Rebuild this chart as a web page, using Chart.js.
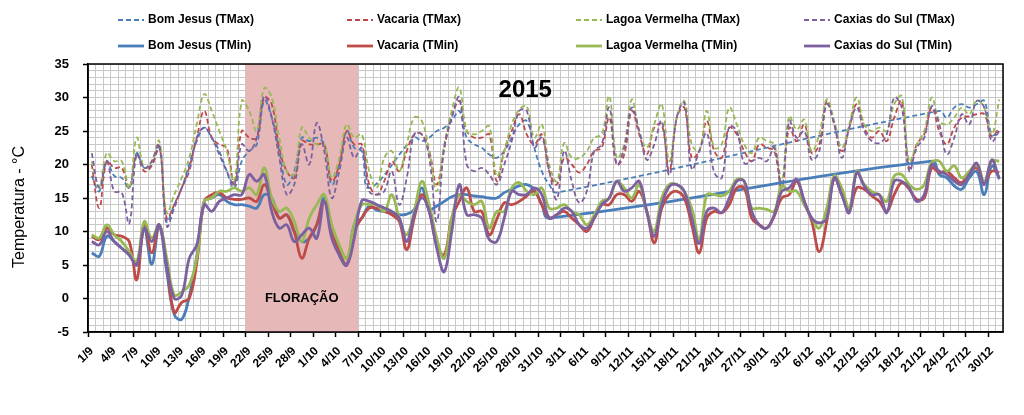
<!DOCTYPE html>
<html>
<head>
<meta charset="utf-8">
<script src="https://cdn.jsdelivr.net/npm/chart.js@4.4.0/dist/chart.umd.min.js"></script>
<style>
  html, body { margin: 0; padding: 0; background: #fff; }
  #wrap { width: 1024px; height: 415px; }
</style>
</head>
<body>
<div id="wrap"><canvas id="chart" width="1024" height="415"></canvas></div>
<script>
// categories: every day from 1/9 to 31/12
const months = [9, 10, 11, 12];
const monthDays = [30, 31, 30, 31];
const dayLabels = [];
months.forEach((m, k) => {
    for (let d = 1; d <= monthDays[k]; d++) dayLabels.push(d + '/' + m);
});

// flowering period (first and last day)
const bloomFrom = '22/9';
const bloomTo = '6/10';

// Bom Jesus (missing days are null)
const bjMax = [
    18.3, 16, 20.5, 18.3, 18, 16.5, 21.7, 19.5, 20, 22.5,
    11.5, 14, 16.5, 20, 23.5, 25.5, 24, 22, 19, 16.5,
    20.5, 22, 23, 29.5, 27, 22, 17, 19, 24, 23.5,
    24, 23, 17, 20, 25, 22.5, 22, 16.5, null, null,
    null, null, null, 24, 23.5, 24, 25, 25.5, 26.5, 28,
    24, 23, 22.5, 21.5, 21, 22, 24, 26, 26.5, 22.5,
    19, 17, 15.8, null, null, null, null, null, null, null,
    null, null, null, null, null, null, null, null, null, null,
    null, null, null, null, null, null, null, null, null, null,
    null, null, null, null, null, null, null, null, null, null,
    null, null, null, null, null, null, null, null, null, null,
    null, null, null, 28, 27, 28.5, 29, 28.5, 29, 29.5,
    24.5, 24.5
];
const bjMin = [
    6.8, 6.3, 9.3, 8.5, 7.5, 6.5, 5.2, 10.3, 5.1, 10.8,
    4, -2.4, -3.1, 0.3, 6.3, 14.5, 15, 15.5, 14.5, 14,
    14, 13.8, 13.5, 15.5, 15, 12, 12.5, 10, 8.5, 9,
    11, 15, 10, 6.5, 5, 11, 12, 13.8, 13.2, 13,
    12.8, 12.5, 12.6, 13.3, 16.5, 13.3, 13.8, 14.5, 15.2, 15.5,
    15.5, 15.3, 15.2, 15, 15, 15.8, 16.3, 16.8, 17, 16.3,
    14, 12, null, null, null, null, null, null, null, null,
    null, null, null, null, null, null, null, null, null, null,
    null, null, null, null, null, null, null, null, null, null,
    null, null, null, null, null, null, null, null, null, null,
    null, null, null, null, null, null, null, null, null, null,
    null, null, 20.5, 18.5, 18, 16.8, 16.3, 18, 19, 15.5,
    19.8, 18
];

// Vacaria
const vaMax = [
    20, 13.5, 20.5, 19.5, 19.5, 16.5, 21.5, 19, 19.8, 22.7,
    12, 14, 16.5, 19.5, 24, 28, 24, 23, 22.5, 17,
    25, 24, 24, 30, 29, 22.5, 19, 18, 23.5, 23,
    23, 23, 17.5, 20, 25, 23, 23, 17, 15.5, 17.5,
    20.5, 19, 22, 24.5, 24.5, 22, 17, 22.5, 27, 29.5,
    25, 24, 24, 24.5, 17.5, 22, 25, 27.5, 24.5, 23,
    24.5, 19, 17, 21, 20, 18.8, 20, 22, 22.5, 27,
    20, 21.5, 28, 24.5, 21.5, 25.5, 26, 19, 27, 28.5,
    21, 22, 26.5, 22, 21, 25.5, 24.5, 22, 20.5, 23,
    22.5, 22, 16.5, 25.5, 23.5, 26, 21.7, 23, 29.5, 26,
    22, 25.5, 29, 25.5, 24, 25, 23.5, 27, 29.5, 19.5,
    23, 24.5, 28.5, 25, 23, 25.5, 27, 27.2, 27.5, 27.5,
    24.2, 25.5
];
const vaMin = [
    9.3, 8.8, 10.5, 9.5, 9.3, 8.5, 2.8, 11, 6.8, 11,
    5, -2.1, -0.6, 0, 5.3, 14.5, 15.5, 15.8, 15, 14.8,
    14.8, 15, 14.5, 17, 14.5, 12, 12.5, 10, 6, 9,
    11, 14.5, 10, 7, 5, 10, 12, 13.5, 13.5, 13,
    12.5, 11.5, 7.3, 12, 15.5, 13, 8, 6.5, 12, 14.5,
    16.5, 13, 13, 9.5, 11.8, 14.3, 14, 14.5, 15.3, 16,
    14, 12, 12.5, 13, 12, 11, 10, 12, 14, 14,
    15.5, 15.5, 14.5, 16, 13, 8.3, 13.5, 15.5, 16, 15,
    11, 6.8, 12, 13, 12.8, 14, 16.5, 16.5, 12, 11,
    10.5, 12.3, 15, 15.5, 17.5, 14.5, 11.5, 7, 11.5, 18,
    15.5, 13.3, 16.5, 16.3, 15.3, 14.5, 13, 15.5, 17.3, 16.3,
    14.8, 15, 19.5, 18.8, 19, 18, 17.3, 18.8, 19.5, 17.3,
    19, 18.8
];

// Lagoa Vermelha
const lvMax = [
    20.5, 16.7, 21.7, 20.5, 20.5, 16.5, 24, 19.5, 20.5, 23.5,
    12.8, 15.5, 18, 21, 26, 30.5, 28, 25, 22, 17.5,
    29.5, 28, 25, 31.4, 30, 24, 19, 18.5, 25.5, 24,
    23, 23, 18, 21, 26, 24, 24.5, 19, 16.5, 21,
    22, 19, 23, 27, 26.5, 22, 16, 23, 28, 31.5,
    25, 24.5, 25, 25.7, 18.3, 22, 26, 28.2, 28.7, 24,
    26, 20, 17.5, 23.2, 21, 21, 22, 24, 24.5, 30.2,
    21, 23, 29.7, 25, 22.5, 26, 29, 20.5, 27, 29.5,
    23, 22, 28, 22.5, 23, 28.5, 26, 23, 21.7, 24,
    23.5, 23, 17.5, 27.2, 25.2, 26.7, 22, 24.5, 29.7, 26.5,
    22.5, 26, 30, 26, 25, 25.5, 25, 29, 30.2, 20.5,
    23, 25, 30, 26.5, 26, 27, 28.5, 27.5, 29.5, 28.5,
    24.5, 29.7
];
const lvMin = [
    9.5, 9, 11, 9.5, 8.5, 7, 5.5, 11.5, 9, 11,
    6, 0.5, 1, 2, 6, 14.5, 15, 16, 16, 16.5,
    16, 16.5, 15.5, 19.5, 15, 13, 13.5, 11.5, 8.5, 12,
    14, 15.5, 11, 8, 6, 11, 14, 14, 14, 13,
    15.5, 12, 9.5, 13, 17.5, 14, 9, 6, 12, 15.5,
    14.5, 14, 14.5, 10.5, 13, 13, 16.5, 17.3, 16, 15.5,
    16.5, 13.5, 13.5, 14, 13, 12.5, 11, 12.5, 14.5, 15,
    17.5, 16.5, 15, 17, 13, 10, 15, 17, 17, 16,
    13.5, 8.8, 15.5, 15.5, 15.3, 16, 17.8, 17.5, 13.5, 13.5,
    13.3, 13, 16.8, 16, 16, 14, 12, 10.5, 13.5, 18.3,
    16.5, 13.5, 19, 17, 16, 15.5, 14.5, 18.3, 18.5, 17,
    16.3, 17, 20.3, 20.5, 19, 19.8, 18, 19, 20, 17.5,
    20.5, 20.5
];

// Caxias do Sul
const cxMax = [
    21.7, 16.5, 20.5, 16, 15.8, 11.2, 21.6, 19.5, 20.5, 23,
    10.8, 13.5, 16.5, 19, 24, 25.5, 24, 21.5, 19, 17,
    23, 22, 24, 30.2, 27, 21, 15.5, 17, 23, 20,
    26.2, 22, 15, 19, 24, 21, 22.5, 16, 15.5, 16,
    19, 14, 18, 24.5, 24.5, 21, 11.5, 22.5, 27, 30,
    20, 19, 19.5, 18.5, 17, 20, 23.5, 28, 28, 22.5,
    24, 19, 14.8, 22, 17.5, 14.3, 16, 22, 23, 28.5,
    20, 22.5, 28.5, 25, 20.7, 23, 26.5, 18.4, 27, 29.2,
    19.3, 22, 24.7, 18.8, 18, 25.7, 25, 20.2, 20.5, 21,
    20.5, 22.5, 16.5, 26.5, 24, 25, 20.7, 22, 29, 26,
    21, 25.5, 28.5, 25, 23.5, 23.2, 24.5, 30, 28.5, 19,
    22.5, 24, 28.7, 26, 21.5, 24, 27.5, 26, 29.5, 28.5,
    23.5, 25
];
const cxMin = [
    8.5, 8, 10, 8.5, 7.5, 6.5, 5, 10.5, 8.5, 11,
    5, 0, 0.5, 6, 8, 14, 13, 14.5, 15, 15.5,
    15.5, 18.5, 17.5, 18.5, 13, 10.5, 11, 8.5, 9.5, 10.5,
    9, 14.5, 9, 6.5, 5, 9, 14.6, 14.5, 14, 13.5,
    13, 12, 8.5, 12.5, 15, 13, 7.5, 4, 10, 17,
    12.5, 12.5, 12, 8.8, 8.5, 12, 16, 15.5, 15.5, 16.5,
    15.5, 12, 12.5, 13.5, 13, 11, 10.5, 12, 14, 15,
    17.5, 16, 16.5, 17.5, 13, 9.3, 14, 16.7, 17, 16,
    12, 8.2, 13, 13.5, 12.8, 15, 17.5, 17.5, 13, 11,
    10.5, 12.5, 16, 16.5, 17.8, 14.5, 12, 11.3, 12, 18,
    15.5, 12.8, 18.8, 16.8, 15.5, 15.5, 12.8, 17.5, 17.5, 16.5,
    14.5, 15.5, 20, 19, 18.5, 17.5, 17, 18.5, 20.2, 17,
    20.7, 17.8
];

const seriesNames = [
    'Bom Jesus (TMax)', 'Vacaria (TMax)', 'Lagoa Vermelha (TMax)', 'Caxias do Sul (TMax)',
    'Bom Jesus (TMin)', 'Vacaria (TMin)', 'Lagoa Vermelha (TMin)', 'Caxias do Sul (TMin)'
];
const seriesData = [bjMax, vaMax, lvMax, cxMax, bjMin, vaMin, lvMin, cxMin];
const stationColors = ['#4a7ebb', '#be4b48', '#98b954', '#7d60a0'];

const FONT = "'Liberation Sans', Arial, sans-serif";

const datasets = seriesData.map((data, i) => {
    const isMax = i < 4;
    return {
        label: seriesNames[i],
        data: data,
        borderColor: stationColors[i % 4],
        borderWidth: isMax ? 1.8 : 2.8,
        borderDash: isMax ? [5, 3] : [],
        pointRadius: 0,
        tension: 0.4,
        spanGaps: true,
        fill: false,
        order: 7 - i // caxias TMin on top
    };
});

// shading, texts, border, legend, y title
const decor = {
    id: 'decor',
    beforeDatasetsDraw(chart) {
        const { ctx, chartArea: a, scales: { x } } = chart;
        const half = (x.getPixelForValue(1) - x.getPixelForValue(0)) / 2;
        const x0 = x.getPixelForValue(dayLabels.indexOf(bloomFrom)) - half;
        const x1 = x.getPixelForValue(dayLabels.indexOf(bloomTo)) + half;
        ctx.save();
        ctx.fillStyle = '#e6b8b7';
        ctx.fillRect(x0, a.top, x1 - x0, a.bottom - a.top);
        ctx.fillStyle = '#000';
        ctx.font = 'bold 13px ' + FONT;
        ctx.textAlign = 'center';
        ctx.textBaseline = 'middle';
        ctx.fillText('FLORAÇÃO', (x0 + x1) / 2, chart.scales.y.getPixelForValue(0));
        ctx.restore();
    },
    afterDraw(chart) {
        const { ctx, chartArea: a, scales: { x, y } } = chart;
        ctx.save();
        // plot border
        ctx.strokeStyle = '#000';
        ctx.lineWidth = 1.5;
        ctx.strokeRect(a.left, a.top, a.right - a.left, a.bottom - a.top);

        // year label
        ctx.fillStyle = '#000';
        ctx.font = 'bold 24px ' + FONT;
        ctx.textAlign = 'center';
        ctx.textBaseline = 'middle';
        ctx.fillText('2015', x.getPixelForValue(57.8), y.getPixelForValue(31));

        // y title
        ctx.save();
        ctx.translate(20, 207);
        ctx.rotate(-Math.PI / 2);
        ctx.font = '16px ' + FONT;
        ctx.fillText('Temperatura - °C', 0, 0);
        ctx.restore();

        // legend: TMax on first row, TMin on second
        const colX = [118, 347, 576, 804];
        const rowY = [20, 46];
        ctx.font = 'bold 12px ' + FONT;
        ctx.textAlign = 'left';
        chart.data.datasets.forEach((ds, i) => {
            const lx = colX[i % 4];
            const ly = rowY[i < 4 ? 0 : 1];
            ctx.strokeStyle = ds.borderColor;
            ctx.lineWidth = ds.borderWidth;
            ctx.setLineDash(ds.borderDash);
            ctx.beginPath();
            ctx.moveTo(lx, ly);
            ctx.lineTo(lx + 26, ly);
            ctx.stroke();
            ctx.setLineDash([]);
            ctx.fillStyle = '#000';
            ctx.fillText(ds.label, lx + 30, ly);
        });
        ctx.restore();
    }
};

new Chart(document.getElementById('chart'), {
    type: 'line',
    data: { labels: dayLabels, datasets: datasets },
    options: {
        responsive: false,
        animation: false,
        devicePixelRatio: 1,
        layout: { padding: { top: 64, right: 21, bottom: 0, left: 0 } },
        plugins: {
            legend: { display: false },
            tooltip: { enabled: false }
        },
        scales: {
            x: {
                type: 'category',
                offset: true,
                grid: {
                    offset: true,
                    color: '#c8c8c8',
                    lineWidth: 1,
                    drawTicks: true,
                    tickLength: 5,
                    tickWidth: 1.5,
                    tickColor: c => (c.index % 3 === 0 ? '#000' : 'rgba(0,0,0,0)')
                },
                border: { display: true, color: '#000', width: 1.5 },
                ticks: {
                    autoSkip: false,
                    maxRotation: 45,
                    minRotation: 45,
                    padding: 7,
                    color: '#000',
                    font: { family: FONT, size: 12, weight: 'bold' },
                    callback: (v, i) => (i % 3 === 0 ? dayLabels[i] : '')
                },
                afterFit: s => { s.height = 83; }
            },
            y: {
                min: -5,
                max: 35,
                grid: {
                    color: '#c8c8c8',
                    lineWidth: 1,
                    tickLength: 5,
                    tickWidth: 1.5,
                    tickColor: c => (c.tick && c.tick.value % 5 === 0 ? '#000' : 'rgba(0,0,0,0)')
                },
                border: { display: true, color: '#000', width: 1.5 },
                ticks: {
                    stepSize: 1,
                    autoSkip: false,
                    padding: 14,
                    color: '#000',
                    font: { family: FONT, size: 13, weight: 'bold' },
                    callback: v => (v % 5 === 0 ? v : '')
                },
                afterFit: s => { s.width = 88; }
            }
        }
    },
    plugins: [decor]
});
</script>
</body>
</html>
